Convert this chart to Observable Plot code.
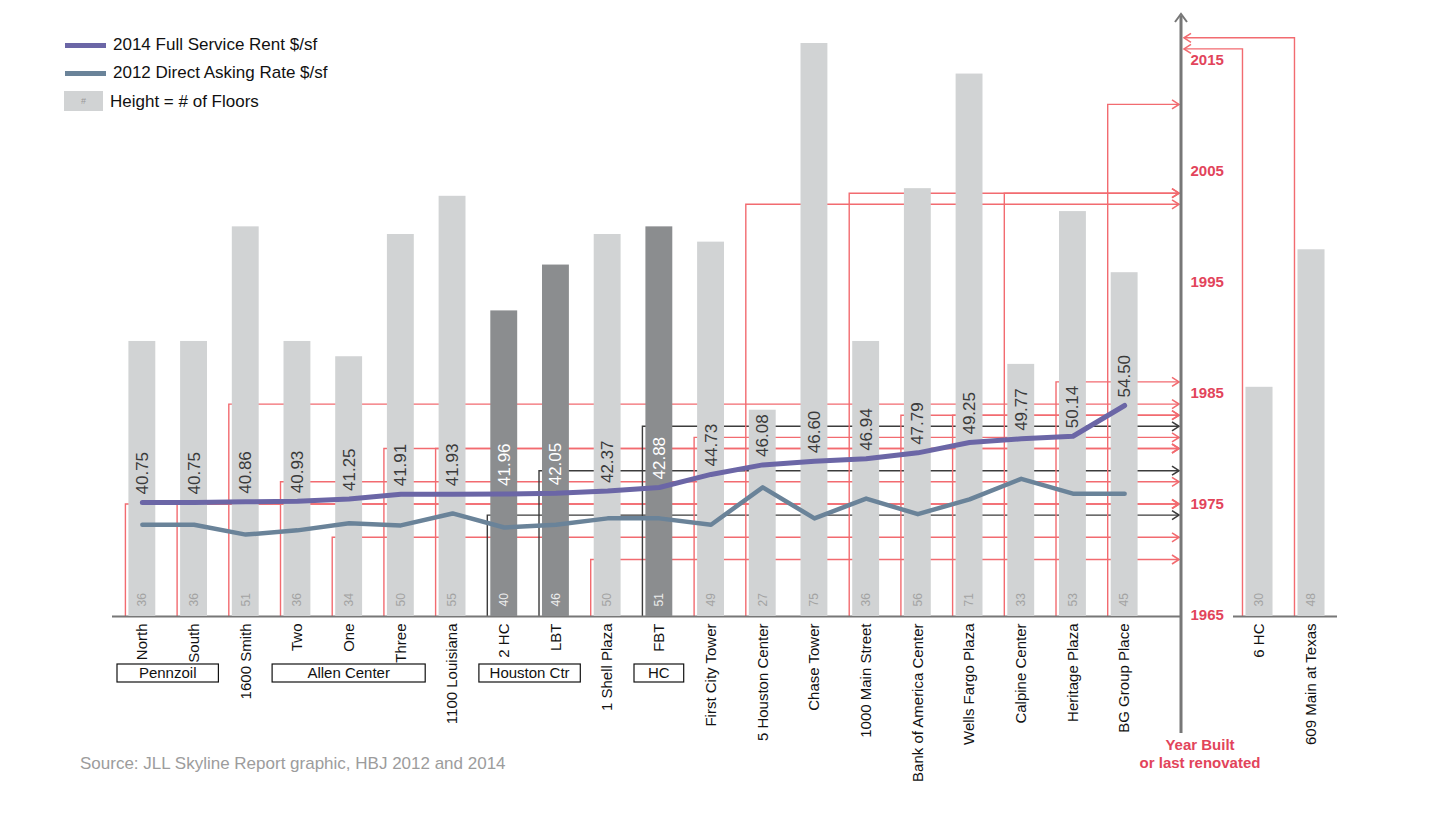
<!DOCTYPE html>
<html>
<head>
<meta charset="utf-8">
<script src="https://cdn.jsdelivr.net/npm/d3@7"></script>
<script src="https://cdn.jsdelivr.net/npm/@observablehq/plot@0.6"></script>
<style>
  body { margin: 0; background: #fff; }
  #chart { position: relative; width: 1430px; height: 819px; overflow: hidden;
           font-family: "Liberation Sans", Arial, Helvetica, sans-serif; background: #fff; }
  #chart svg { position: absolute; left: 0; top: 0; }
  .abs { position: absolute; white-space: nowrap; }
  .leg-text { font-size: 17px; color: #111; line-height: 18px; }
  .year-title { font-size: 15px; font-weight: bold; color: #e2445b; text-align: center; width: 200px; line-height: 18px; }
</style>
</head>
<body>
<div id="chart"></div>
<script>
// ---------------- data ----------------
const buildings = ["North","South","1600 Smith","Two","One","Three","1100 Louisiana","2 HC","LBT","1 Shell Plaza","FBT","First City Tower","5 Houston Center","Chase Tower","1000 Main Street","Bank of America Center","Wells Fargo Plaza","Calpine Center","Heritage Plaza","BG Group Place"];
const floors    = [36,36,51,36,34,50,55,40,46,50,51,49,27,75,36,56,71,33,53,45];
const rent2014  = [40.75,40.75,40.86,40.93,41.25,41.91,41.93,41.96,42.05,42.37,42.88,44.73,46.08,46.60,46.94,47.79,49.25,49.77,50.14,54.50];
const rate2012  = [37.6,37.6,36.2,36.8,37.8,37.5,39.2,37.2,37.6,38.5,38.5,37.6,42.9,38.5,41.3,39.1,41.2,44.1,42.0,42.0];
const yearBuilt = [1975,1975,1984,1977,1972,1980,1980,1974,1978,1970,1982,1981,2002,null,2003,1983,1983,2003,1986,2011];
const houstonCenter = ["2 HC","LBT","FBT"];
const newBuildings = ["6 HC","609 Main at Texas"];
const newFloors    = [30,48];
const newYearBuilt = [2016,2017];
const groups = [
  {label:"Pennzoil", members:["North","South"]},
  {label:"Allen Center", members:["Two","One","Three"]},
  {label:"Houston Ctr", members:["2 HC","LBT"]},
  {label:"HC", members:["FBT"]}
];
const yearTicks = [1965,1975,1985,1995,2005,2015];
const legendItems = ["2014 Full Service Rent $/sf","2012 Direct Asking Rate $/sf","Height = # of Floors"];
const sourceText = "Source: JLL Skyline Report graphic, HBJ 2012 and 2014";

// ---------------- layout ----------------
const W = 1430, H = 819;
const FONT = '"Liberation Sans", Arial, Helvetica, sans-serif';
const BASE = 616;
const AXIS_X = 1181;
const C = {
  light: "#d1d3d4", dark: "#8b8d8f", rent: "#6b66a6", rate: "#6a8399",
  red: "#f26b70", redText: "#e2445b", black: "#3c3c3c", axis: "#777"
};
const styleT = {background: "transparent", overflow: "visible", fontFamily: FONT};
const xL = {type: "band", domain: buildings, range: [116, 1150], paddingInner: 0.48, paddingOuter: 0.24, round: false, axis: null};
const xR = {type: "band", domain: newBuildings, range: [1233, 1337], paddingInner: 0.48, paddingOuter: 0.24, round: false, axis: null};
const yFloors = {domain: [0, 75], range: [BASE, 43], axis: null};
const yYears  = {domain: [1965, 2015], range: [615, 60], axis: null};
const yRent   = {domain: [40.75, 54.5], range: [502, 405], axis: null};

const dataL = buildings.map((name, i) => ({
  name, floors: floors[i], rent2014: rent2014[i], rate2012: rate2012[i],
  year: yearBuilt[i], hc: houstonCenter.includes(name)
}));
const dataR = newBuildings.map((name, i) => ({name, floors: newFloors[i], year: newYearBuilt[i], hc: false}));

const chart = document.getElementById("chart");

// ---------- year layers (connectors, year axis) ----------
const yearL = Plot.plot({
  width: W, height: H, marginLeft: 112, marginRight: W - AXIS_X, marginTop: 15, marginBottom: H - 733,
  style: styleT, x: xL, y: yYears,
  marks: [
    Plot.text(yearTicks, {y: d => d, text: d => String(d), frameAnchor: "right", dx: 9, textAnchor: "start",
      fill: C.redText, fontSize: 15, fontWeight: "bold"})
  ]
});
const yearR = Plot.plot({
  width: W, height: H, marginLeft: 1233, marginRight: W - 1337, marginTop: 15, marginBottom: H - 733,
  style: styleT, x: xR, y: yYears, marks: [Plot.ruleY([])]
});

function drawConnectors(plot, data, leftward) {
  const xs = plot.scale("x"), ys = plot.scale("y");
  const g = d3.select(plot).append("g").attr("fill", "none");
  data.filter(d => d.year != null).forEach(d => {
    const col = d.hc ? C.black : C.red;
    const x0 = xs.apply(d.name) - 3;
    const y0 = ys.apply(d.year);
    const tip = leftward ? AXIS_X + 3 : AXIS_X - 2;
    g.append("path").attr("d", `M${x0},${BASE}V${y0}H${tip}`)
      .attr("stroke", col).attr("stroke-width", 1.4);
    const s = leftward ? 1 : -1;
    g.append("path").attr("d", `M${tip + s * 7},${y0 - 4.5}L${tip},${y0}L${tip + s * 7},${y0 + 4.5}`)
      .attr("stroke", col).attr("stroke-width", 1.6);
  });
}
drawConnectors(yearL, dataL, false);
drawConnectors(yearR, dataR, true);

// axis line with arrow
{
  const g = d3.select(yearL).append("g").attr("fill", "none").attr("stroke", C.axis);
  g.append("line").attr("x1", AXIS_X).attr("x2", AXIS_X).attr("y1", 16).attr("y2", 733).attr("stroke-width", 3);
  g.append("path").attr("d", `M${AXIS_X - 6},${22}L${AXIS_X},${14}L${AXIS_X + 6},${22}`).attr("stroke-width", 2);
}

// ---------- floors layers (bars, labels, names) ----------
const floorMarks = (data) => [
  Plot.ruleY([0], {stroke: C.axis, strokeWidth: 2}),
  Plot.barY(data, {x: "name", y: "floors", fill: d => d.hc ? C.dark : C.light}),
  Plot.text(data, {x: "name", y: 0, text: d => String(d.floors), rotate: -90, textAnchor: "start", dy: -10,
    fontSize: 12, fill: d => d.hc ? "#ececec" : "#a3a3a3"}),
  Plot.text(data, {x: "name", y: 0, text: "name", rotate: -90, textAnchor: "end", dy: 7,
    fontSize: 15, fill: "#111"})
];
const floorsL = Plot.plot({
  width: W, height: H, marginLeft: 112, marginRight: W - AXIS_X, marginTop: 20, marginBottom: H - BASE,
  style: styleT, x: xL, y: yFloors, color: {type: "identity"}, marks: floorMarks(dataL)
});
const floorsR = Plot.plot({
  width: W, height: H, marginLeft: 1233, marginRight: W - 1337, marginTop: 20, marginBottom: H - BASE,
  style: styleT, x: xR, y: yFloors, color: {type: "identity"}, marks: floorMarks(dataR)
});

// group boxes under the names
{
  const xs = floorsL.scale("x");
  const step = xs.step ?? (xs.bandwidth / 0.52);
  const half = xs.bandwidth / 2;
  const g = d3.select(floorsL).append("g");
  groups.forEach(gr => {
    const c0 = xs.apply(gr.members[0]) + half;
    const c1 = xs.apply(gr.members[gr.members.length - 1]) + half;
    const x0 = c0 - step / 2 + 1, x1 = c1 + step / 2 - 1;
    g.append("rect").attr("x", x0).attr("y", 664).attr("width", x1 - x0).attr("height", 18)
      .attr("fill", "#fff").attr("stroke", "#111").attr("stroke-width", 1.2);
    g.append("text").attr("x", (x0 + x1) / 2).attr("y", 673).attr("dy", "0.35em")
      .attr("text-anchor", "middle").attr("font-size", 15).attr("fill", "#111").text(gr.label);
  });
}

// ---------- rent layer (lines + value labels) ----------
const rentL = Plot.plot({
  width: W, height: H, marginLeft: 112, marginRight: W - AXIS_X, marginTop: 20, marginBottom: H - BASE,
  style: styleT, x: xL, y: yRent, color: {type: "identity"},
  marks: [
    Plot.line(dataL, {x: "name", y: "rate2012", stroke: C.rate, strokeWidth: 4.5, strokeLinejoin: "round"}),
    Plot.line(dataL, {x: "name", y: "rent2014", stroke: C.rent, strokeWidth: 5, strokeLinejoin: "round"}),
    Plot.text(dataL, {x: "name", y: "rent2014", text: d => d.rent2014.toFixed(2), rotate: -90, textAnchor: "start",
      dy: -8, fontSize: 17, fill: d => d.hc ? "#ffffff" : "#3a3a3a"})
  ]
});

[yearL, yearR, floorsL, floorsR, rentL].forEach(s => chart.appendChild(s));

// ---------- legend, titles, source ----------
function addDiv(html, cls, left, top, extra = "") {
  const d = document.createElement("div");
  d.className = "abs " + cls;
  d.style.left = left + "px"; d.style.top = top + "px";
  if (extra) d.style.cssText += extra;
  d.innerHTML = html;
  chart.appendChild(d);
  return d;
}
addDiv("", "", 65, 43, `width:41px;height:5px;background:${C.rent};`);
addDiv(legendItems[0], "leg-text", 113, 36);
addDiv("", "", 65, 71, `width:41px;height:5px;background:${C.rate};`);
addDiv(legendItems[1], "leg-text", 113, 64);
addDiv("#", "", 64, 91, `width:39px;height:20px;background:${C.light};color:#999;font-size:9px;line-height:20px;text-align:center;`);
addDiv(legendItems[2], "leg-text", 110, 93);
addDiv("Year Built<br>or last renovated", "year-title", 1100, 736);
addDiv(sourceText, "", 80, 755, "font-size:17px;color:#9c9c9c;line-height:18px;");
</script>
</body>
</html>
